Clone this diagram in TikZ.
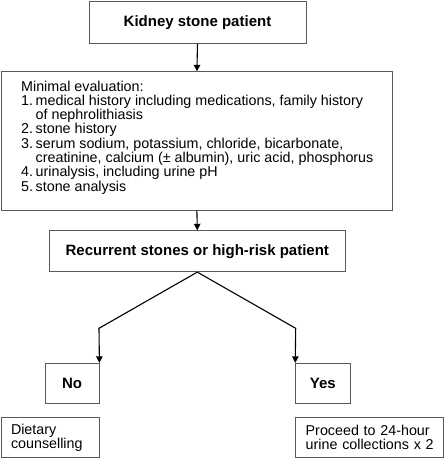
\documentclass[tikz,border=0pt]{standalone}
\usepackage{fontspec}
\setmainfont{Liberation Sans}
\usetikzlibrary{arrows.meta}
\begin{document}
\begin{tikzpicture}[x=1pt,y=-1pt,
  boxnode/.style={draw=black!65,line width=0.8pt,rectangle,inner sep=0pt,
    font=\fontsize{15}{15}\selectfont\bfseries},
  textbox/.style={draw=black!65,line width=0.8pt,rectangle,inner xsep=10pt,inner ysep=0pt,
    align=left,font=\fontsize{14.3}{14}\selectfont},
  conn/.style={line width=1.1pt,black},
  arr/.style={conn,-{Triangle[length=6.5pt,width=6.5pt]}}]
\useasboundingbox (0,0) rectangle (445,458);
\node[boxnode,minimum width=217pt,minimum height=42.3pt] (top) at (197.5,22.2) {Kidney stone patient};
\node[draw=black!65,line width=0.8pt,rectangle,inner sep=0pt,minimum width=391.7pt,minimum height=138.3pt] (eval) at (196.9,140.9) {};
\node[anchor=north west,inner sep=0pt,align=left,font=\fontsize{14.3}{14.3}\selectfont] (evaltext) at (21,80.5) {%
Minimal evaluation:\\
\makebox[14.5pt][l]{1.}medical history including medications, family history\\
\makebox[14.5pt][l]{}of nephrolithiasis\\
\makebox[14.5pt][l]{2.}stone history\\
\makebox[14.5pt][l]{3.}serum sodium, potassium, chloride, bicarbonate,\\
\makebox[14.5pt][l]{}creatinine, calcium (± albumin), uric acid, phosphorus\\
\makebox[14.5pt][l]{4.}urinalysis, including urine pH\\
\makebox[14.5pt][l]{5.}stone analysis};
\node[boxnode,minimum width=296.7pt,minimum height=41pt] (rec) at (197.3,251.2) {Recurrent stones or high-risk patient};
\node[boxnode,minimum width=54pt,minimum height=40pt] (no) at (72,383.3) {No};
\node[boxnode,minimum width=54.3pt,minimum height=40pt] (yes) at (322.8,383.3) {Yes};
\node[textbox,minimum width=98pt,minimum height=40pt,text width=78pt] (diet) at (50,437.3) {\mbox{Dietary}\\\mbox{counselling}};
\node[textbox,minimum width=147.6pt,minimum height=40pt,text width=127.6pt] (proc) at (369.5,437.3) {\mbox{Proceed to 24-hour}\\\mbox{urine collections x 2}};
\coordinate (bl) at (99,328.3);
\coordinate (br) at (295.7,328.3);
\draw[arr] (top.south) -- (eval.north);
\draw[arr] (eval.south) -- (rec.north);
\draw[arr] (rec.south) -- (bl) -- (no.north east);
\draw[arr] (rec.south) -- (br) -- (yes.north west);
\end{tikzpicture}
\end{document}
